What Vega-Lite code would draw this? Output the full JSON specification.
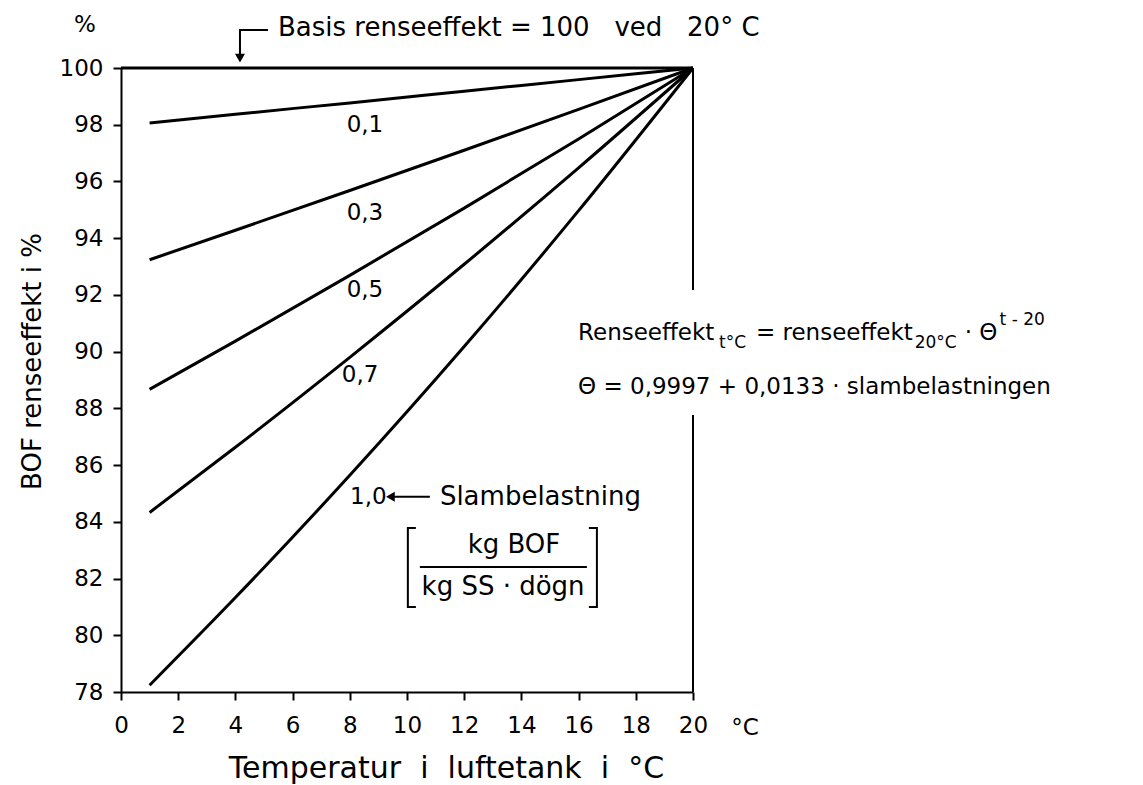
{
  "$schema": "https://vega.github.io/schema/vega-lite/v6.json",
  "autosize": "none",
  "width": 572,
  "height": 624,
  "padding": {"left": 121, "top": 68, "right": 450, "bottom": 93},
  "background": "white",
  "config": {
    "view": {"stroke": null},
    "font": "DejaVu Sans",
    "axis": {"grid": false, "domainColor": "black", "tickColor": "black", "labelColor": "black", "titleColor": "black", "domainWidth": 2, "tickWidth": 2, "labelFont": "DejaVu Sans", "titleFont": "DejaVu Sans", "titleFontWeight": "normal", "labelFlush": false, "labelOverlap": false}
  },
  "datasets": {
    "curves": [
      {"load": "0,1", "t": 1, "e": 98.06}, {"load": "0,1", "t": 4, "e": 98.37}, {"load": "0,1", "t": 8, "e": 98.77}, {"load": "0,1", "t": 12, "e": 99.18}, {"load": "0,1", "t": 16, "e": 99.59}, {"load": "0,1", "t": 20, "e": 100},
      {"load": "0,3", "t": 1, "e": 93.24}, {"load": "0,3", "t": 4, "e": 94.28}, {"load": "0,3", "t": 8, "e": 95.68}, {"load": "0,3", "t": 12, "e": 97.10}, {"load": "0,3", "t": 16, "e": 98.54}, {"load": "0,3", "t": 20, "e": 100},
      {"load": "0,5", "t": 1, "e": 88.67}, {"load": "0,5", "t": 4, "e": 90.37}, {"load": "0,5", "t": 8, "e": 92.69}, {"load": "0,5", "t": 12, "e": 95.06}, {"load": "0,5", "t": 16, "e": 97.50}, {"load": "0,5", "t": 20, "e": 100},
      {"load": "0,7", "t": 1, "e": 84.33}, {"load": "0,7", "t": 4, "e": 86.63}, {"load": "0,7", "t": 8, "e": 89.80}, {"load": "0,7", "t": 12, "e": 93.08}, {"load": "0,7", "t": 16, "e": 96.48}, {"load": "0,7", "t": 20, "e": 100},
      {"load": "1,0", "t": 1, "e": 78.24}, {"load": "1,0", "t": 4, "e": 81.33}, {"load": "1,0", "t": 8, "e": 85.64}, {"load": "1,0", "t": 12, "e": 90.18}, {"load": "1,0", "t": 16, "e": 94.97}, {"load": "1,0", "t": 20, "e": 100},
      {"load": "basis", "t": 0, "e": 100}, {"load": "basis", "t": 20, "e": 100}
    ],
    "frame": [
      {"x": 20, "y": 92.17, "y2": 100},
      {"x": 20, "y": 78, "y2": 87.77}
    ],
    "annot": [
      {"id": "topArrow", "ord": 1, "x": 5.14, "y": 101.34},
      {"id": "topArrow", "ord": 2, "x": 4.16, "y": 101.34},
      {"id": "topArrow", "ord": 3, "x": 4.16, "y": 100.45},
      {"id": "slamArrow", "ord": 1, "x": 10.80, "y": 84.88},
      {"id": "slamArrow", "ord": 2, "x": 9.45, "y": 84.88},
      {"id": "leftBracket", "ord": 1, "x": 10.31, "y": 83.78},
      {"id": "leftBracket", "ord": 2, "x": 10.03, "y": 83.78},
      {"id": "leftBracket", "ord": 3, "x": 10.03, "y": 81.0},
      {"id": "leftBracket", "ord": 4, "x": 10.31, "y": 81.0},
      {"id": "rightBracket", "ord": 1, "x": 16.36, "y": 83.78},
      {"id": "rightBracket", "ord": 2, "x": 16.64, "y": 83.78},
      {"id": "rightBracket", "ord": 3, "x": 16.64, "y": 81.0},
      {"id": "rightBracket", "ord": 4, "x": 16.36, "y": 81.0},
      {"id": "fraction", "ord": 1, "x": 10.45, "y": 82.41},
      {"id": "fraction", "ord": 2, "x": 16.29, "y": 82.41}
    ],
    "heads": [
      {"dir": "down", "x": 4.16, "y": 100.35},
      {"dir": "left", "x": 9.42, "y": 84.88}
    ],
    "curveLabels": [
      {"label": "%", "x": -1.26, "y": 101.52},
      {"label": "°C", "x": 21.82, "y": 76.73},
      {"label": "0,1", "x": 8.53, "y": 97.99},
      {"label": "0,3", "x": 8.53, "y": 94.89},
      {"label": "0,5", "x": 8.53, "y": 92.17},
      {"label": "0,7", "x": 8.36, "y": 89.18}
    ],
    "unitText": [
      {"label": "kg BOF", "x": 13.74, "y": 83.18},
      {"label": "kg SS · dögn", "x": 13.36, "y": 81.70}
    ],
    "bigText": [
      {"label": "Basis renseeffekt = 100\u00a0\u00a0 ved\u00a0\u00a0 20° C", "x": 5.49, "y": 101.41},
      {"label": "Slambelastning", "x": 11.15, "y": 84.88}
    ],
    "leftText": [
      {"label": "1,0", "x": 8.01, "y": 84.88},
      {"label": "Renseeffekt", "x": 15.98, "y": 90.66},
      {"label": "= renseeffekt", "x": 22.20, "y": 90.66},
      {"label": "· Θ", "x": 29.50, "y": 90.66},
      {"label": "Θ = 0,9997 + 0,0133\u00a0· slambelastningen", "x": 15.98, "y": 88.75}
    ],
    "smallText": [
      {"label": "t°C", "x": 20.91, "y": 90.30},
      {"label": "20°C", "x": 27.75, "y": 90.30},
      {"label": "t - 20", "x": 30.72, "y": 91.12}
    ]
  },
  "layer": [
    {
      "data": {"name": "frame"},
      "mark": {"type": "rule", "color": "black", "strokeWidth": 2},
      "encoding": {
        "x": {"field": "x", "type": "quantitative", "scale": {"domain": [0, 20], "nice": false, "zero": false},
          "axis": {"values": [0, 2, 4, 6, 8, 10, 12, 14, 16, 18, 20], "tickSize": 8, "labelFontSize": 23, "labelPadding": 14, "title": "Temperatur\u00a0 i\u00a0 luftetank\u00a0 i\u00a0 °C", "titleFontSize": 30, "titleX": 325, "titleY": 85, "titleAlign": "center", "titleBaseline": "alphabetic"}},
        "y": {"field": "y", "type": "quantitative", "scale": {"domain": [78, 100], "nice": false, "zero": false},
          "axis": {"values": [78, 80, 82, 84, 86, 88, 90, 92, 94, 96, 98, 100], "tickSize": 8, "labelFontSize": 23, "labelPadding": 10, "title": "BOF renseeffekt i %", "titleFontSize": 26, "titleAngle": 270, "titleX": -89, "titleY": 293, "titleAlign": "center", "titleBaseline": "middle"}},
        "y2": {"field": "y2"}
      }
    },
    {
      "data": {"name": "curves"},
      "mark": {"type": "line", "color": "black", "strokeWidth": 3, "interpolate": "monotone"},
      "encoding": {
        "x": {"field": "t", "type": "quantitative"},
        "y": {"field": "e", "type": "quantitative"},
        "detail": {"field": "load"}
      }
    },
    {
      "data": {"name": "annot"},
      "mark": {"type": "line", "color": "black", "strokeWidth": 2},
      "encoding": {
        "x": {"field": "x", "type": "quantitative"},
        "y": {"field": "y", "type": "quantitative"},
        "detail": {"field": "id"},
        "order": {"field": "ord", "type": "quantitative"}
      }
    },
    {
      "data": {"name": "heads"},
      "mark": {"type": "point", "filled": true, "color": "black", "size": 100, "opacity": 1},
      "encoding": {
        "x": {"field": "x", "type": "quantitative"},
        "y": {"field": "y", "type": "quantitative"},
        "shape": {"field": "dir", "type": "nominal", "scale": {"domain": ["down", "left"], "range": ["triangle-down", "triangle-left"]}, "legend": null}
      }
    },
    {
      "data": {"name": "curveLabels"},
      "mark": {"type": "text", "align": "center", "baseline": "middle", "fontSize": 23, "color": "black"},
      "encoding": {
        "x": {"field": "x", "type": "quantitative"},
        "y": {"field": "y", "type": "quantitative"},
        "text": {"field": "label"}
      }
    },
    {
      "data": {"name": "unitText"},
      "mark": {"type": "text", "align": "center", "baseline": "middle", "fontSize": 26, "color": "black"},
      "encoding": {
        "x": {"field": "x", "type": "quantitative"},
        "y": {"field": "y", "type": "quantitative"},
        "text": {"field": "label"}
      }
    },
    {
      "data": {"name": "bigText"},
      "mark": {"type": "text", "align": "left", "baseline": "middle", "fontSize": 26, "color": "black"},
      "encoding": {
        "x": {"field": "x", "type": "quantitative"},
        "y": {"field": "y", "type": "quantitative"},
        "text": {"field": "label"}
      }
    },
    {
      "data": {"name": "leftText"},
      "mark": {"type": "text", "align": "left", "baseline": "middle", "fontSize": 23, "color": "black"},
      "encoding": {
        "x": {"field": "x", "type": "quantitative"},
        "y": {"field": "y", "type": "quantitative"},
        "text": {"field": "label"}
      }
    },
    {
      "data": {"name": "smallText"},
      "mark": {"type": "text", "align": "left", "baseline": "middle", "fontSize": 17, "color": "black"},
      "encoding": {
        "x": {"field": "x", "type": "quantitative"},
        "y": {"field": "y", "type": "quantitative"},
        "text": {"field": "label"}
      }
    }
  ]
}
